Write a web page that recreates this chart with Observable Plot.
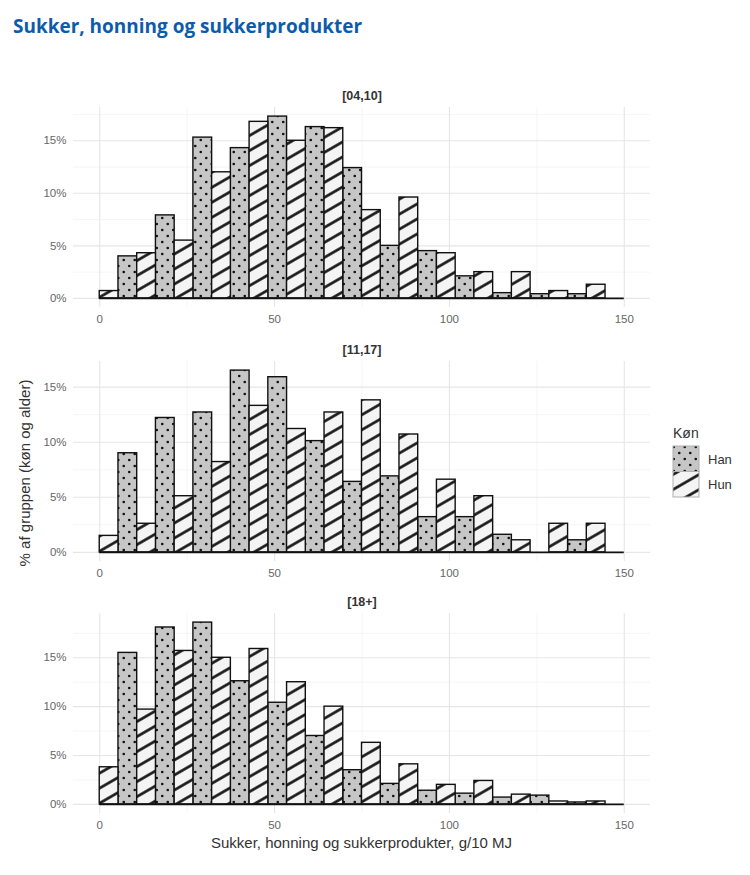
<!DOCTYPE html>
<html><head><meta charset="utf-8">
<script src="https://cdn.jsdelivr.net/npm/d3@7"></script>
<script src="https://cdn.jsdelivr.net/npm/@observablehq/plot@0.6"></script>
<style>
body{margin:0;background:#fff;}
#wrap{position:relative;width:750px;height:875px;overflow:hidden;font-family:"Liberation Sans",Arial,sans-serif;background:#fff;}
#wrap > svg{position:absolute;left:0;}
</style></head><body>
<svg width="0" height="0" style="position:absolute">
<defs>
<pattern id="dots" patternUnits="userSpaceOnUse" width="11" height="12">
 <rect width="11" height="12" fill="#c6c6c6"/>
 <circle cx="2.75" cy="3" r="1.3" fill="#111"/>
 <circle cx="8.25" cy="9" r="1.3" fill="#111"/>
</pattern>
<pattern id="hatch" patternUnits="userSpaceOnUse" width="13" height="13" patternTransform="rotate(-30)">
 <rect width="13" height="13" fill="#f4f4f4"/>
 <line x1="0" y1="6.5" x2="13" y2="6.5" stroke="#111" stroke-width="2.6"/>
</pattern>
</defs></svg>
<div id="wrap"></div>
<script>
// ---- data ----
const chartTitle = "Sukker, honning og sukkerprodukter";
const xTitle = "Sukker, honning og sukkerprodukter, g/10 MJ";
const yTitle = "% af gruppen (køn og alder)";
const legendTitle = "Køn";
const sexes = ["Han", "Hun"];
const panelNames = ["[04,10]", "[11,17]", "[18+]"];
const binWidth = 150 / 14;           // 15 bins centred on 0 … 150
const han0410 = [null, 4.0, 7.9, 15.3, 14.3, 17.3, 16.3, 12.4, 5.0, 4.5, 2.1, 0.5, 0.4, 0.4, 0];
const hun0410 = [0.7, 4.3, 5.5, 12.0, 16.8, 15.0, 16.2, 8.4, 9.6, 4.3, 2.5, 2.5, 0.7, 1.3, null];
const han1117 = [null, 9.0, 12.2, 12.7, 16.5, 15.9, 10.1, 6.4, 6.9, 3.2, 3.2, 1.6, 0, 1.1, 0];
const hun1117 = [1.5, 2.6, 5.1, 8.2, 13.3, 11.2, 12.7, 13.8, 10.7, 6.6, 5.1, 1.1, 2.6, 2.6, null];
const han18 = [null, 15.5, 18.1, 18.6, 12.6, 10.4, 7.0, 3.5, 2.1, 1.4, 1.1, 0.7, 0.9, 0.2, 0];
const hun18 = [3.8, 9.7, 15.7, 15.0, 15.9, 12.5, 10.0, 6.3, 4.1, 2.0, 2.4, 1.0, 0.3, 0.3, null];
const xTicks = [0, 50, 100, 150];
const xMinor = [25, 75, 125];
const yTicks = [0, 5, 10, 15];
const yMinor = [2.5, 7.5, 12.5, 17.5];

const panelData = [[han0410, hun0410], [han1117, hun1117], [han18, hun18]];
const panelTops = [77, 330.5, 583];
const wrap = document.getElementById("wrap");

function rowsFor(han, hun) {
  const rows = [];
  han.forEach((v, k) => {
    if (v == null) return;
    const c = k * binWidth;
    rows.push({sex: sexes[0], x1: c - binWidth / 2, x2: c, y0: 0, value: v});
  });
  hun.forEach((v, k) => {
    if (v == null) return;
    const c = k * binWidth;
    rows.push({sex: sexes[1], x1: c, x2: c + binWidth / 2, y0: 0, value: v});
  });
  return rows;
}

panelNames.forEach((name, i) => {
  const [han, hun] = panelData[i];
  const rows = rowsFor(han, hun);
  const ymax = d3.max(rows, d => d.value);
  const dom = [-0.05 * ymax, 1.05 * ymax];
  const plot = Plot.plot({
    width: 660, height: 255,
    marginLeft: 73, marginRight: 10, marginTop: 30, marginBottom: 25,
    x: {domain: [-7.5, 157.5]},
    y: {domain: dom},
    style: {fontFamily: '"Liberation Sans", Arial, sans-serif', fontSize: "11.5px", color: "#666", background: "transparent"},
    marks: [
      Plot.ruleX(xMinor, {stroke: "#f0f0f0", strokeWidth: 0.7}),
      Plot.ruleY(yMinor.filter(v => v <= dom[1]), {stroke: "#f0f0f0", strokeWidth: 0.7}),
      Plot.ruleX(xTicks, {stroke: "#e6e6e6", strokeWidth: 1.1}),
      Plot.ruleY(yTicks, {stroke: "#e6e6e6", strokeWidth: 1.1}),
      Plot.axisX(xTicks, {tickSize: 0, tickPadding: 7, label: null}),
      Plot.axisY(yTicks, {tickSize: 0, tickPadding: 7, tickFormat: d => d + "%", label: null}),
      Plot.rect(rows.filter(d => d.sex === sexes[0]), {x1: "x1", x2: "x2", y1: "y0", y2: "value", fill: "url(#dots)", stroke: "#111", strokeWidth: 1.4}),
      Plot.rect(rows.filter(d => d.sex === sexes[1]), {x1: "x1", x2: "x2", y1: "y0", y2: "value", fill: "url(#hatch)", stroke: "#111", strokeWidth: 1.4}),
      Plot.ruleY([0], {x1: 0, x2: 150, stroke: "#111", strokeWidth: 1.6}),
      Plot.text([name], {frameAnchor: "top", lineAnchor: "middle", dy: -12, fontWeight: "bold", fontSize: 12.5, fill: "#333"})
    ]
  });
  plot.style.position = "absolute";
  plot.style.top = panelTops[i] + "px";
  plot.style.left = "0px";
  wrap.appendChild(plot);
});

// overlay: titles and legend
const ov = d3.select(wrap).append("svg")
  .attr("width", 750).attr("height", 875)
  .style("position", "absolute").style("top", "0px").style("left", "0px")
  .style("pointer-events", "none");

ov.append("text").text(chartTitle)
  .attr("x", 13).attr("y", 33)
  .attr("font-family", '"Open Sans", sans-serif').attr("font-weight", 700).attr("font-size", 20)
  .attr("fill", "#0d5cab")
  .attr("textLength", 349).attr("lengthAdjust", "spacingAndGlyphs");

ov.append("text").text(xTitle)
  .attr("x", 361.5).attr("y", 848).attr("text-anchor", "middle")
  .attr("font-size", 15).attr("fill", "#333");

ov.append("text").text(yTitle)
  .attr("transform", "translate(30,473) rotate(-90)").attr("text-anchor", "middle")
  .attr("font-size", 15).attr("fill", "#333");

ov.append("text").text(legendTitle)
  .attr("x", 673).attr("y", 438).attr("font-size", 14).attr("fill", "#333");
const keyFills = ["url(#dots)", "url(#hatch)"];
sexes.forEach((s, i) => {
  ov.append("rect").attr("x", 673).attr("y", 446 + i * 25.5).attr("width", 26).attr("height", 25.5)
    .attr("fill", keyFills[i]).attr("stroke", "#b0b0b0").attr("stroke-width", 1);
  ov.append("text").text(s).attr("x", 708).attr("y", 463.5 + i * 25.5)
    .attr("font-size", 13).attr("fill", "#333");
});
</script>
</body></html>
